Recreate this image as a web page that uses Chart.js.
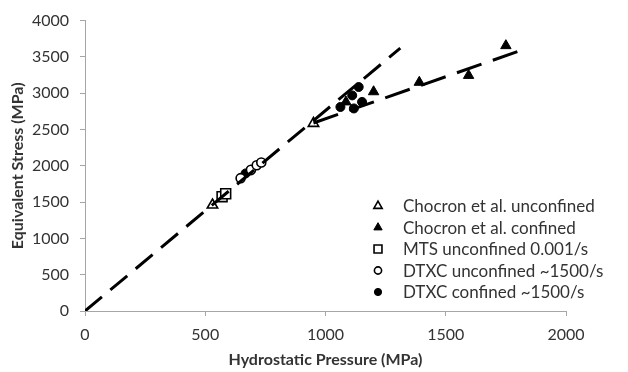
<!DOCTYPE html>
<html>
<head>
<meta charset="utf-8">
<script src="https://cdn.jsdelivr.net/npm/chart.js@4.4.1/dist/chart.umd.min.js"></script>
<style>
  html, body { margin: 0; padding: 0; background: #fff; }
  #wrap { width: 628px; height: 372px; }
</style>
</head>
<body>
<div id="wrap"><canvas id="chart" width="628" height="372"></canvas></div>
<script>
// ── data ──
const xTicks = [0, 500, 1000, 1500, 2000];
const yTicks = [0, 500, 1000, 1500, 2000, 2500, 3000, 3500, 4000];

const chocronUnconfinedX = [530, 950];
const chocronUnconfinedY = [1460, 2585];
const chocronConfinedX = [1085, 1200, 1390, 1595, 1750];
const chocronConfinedY = [2880, 3020, 3150, 3245, 3655];
const mtsUnconfinedX = [570, 585];
const mtsUnconfinedY = [1575, 1615];
const dtxcUnconfinedX = [647, 690, 714, 733];
const dtxcUnconfinedY = [1830, 1945, 2008, 2045];
const dtxcConfinedX = [668, 689, 1062, 1118, 1111, 1138, 1152];
const dtxcConfinedY = [1895, 1935, 2810, 2790, 2970, 3085, 2880];

// trend lines (dashed)
const unconfinedFitX = [0, 1311];
const unconfinedFitY = [0, 3620];
const confinedFitX = [950, 1830];
const confinedFitY = [2590, 3610];

const pts = (xs, ys) => xs.map((x, i) => ({ x, y: ys[i] }));

const TEXT = '#333';
const AXIS = '#a6a6a6';
const FONT = "Lato, 'Open Sans', sans-serif";

const lineSet = (xs, ys, dash) => ({
    label: '',
    data: pts(xs, ys),
    showLine: true,
    borderColor: '#000',
    borderWidth: 3,
    borderDash: dash,
    pointRadius: 0,
    fill: false,
    isFit: true,
});

const markerSet = (label, xs, ys, style, radius, filled) => ({
    label,
    data: pts(xs, ys),
    pointStyle: style,
    pointRadius: radius,
    pointBackgroundColor: filled ? '#000' : '#fff',
    pointBorderColor: '#000',
    pointBorderWidth: filled ? 1 : 1.6,
    showLine: false,
});

// legend drawn inside the plot area, lower right
const insideLegend = {
    id: 'insideLegend',
    afterDraw(chart) {
        const ctx = chart.ctx;
        ctx.save();
        ctx.font = `17px ${FONT}`;
        ctx.textBaseline = 'middle';
        ctx.textAlign = 'left';
        let row = 0;
        chart.data.datasets.forEach(ds => {
            if (ds.isFit) return;
            const y = 206 + row * 21.5;
            ctx.fillStyle = ds.pointBackgroundColor;
            ctx.strokeStyle = ds.pointBorderColor;
            ctx.lineWidth = ds.pointBorderWidth;
            Chart.helpers.drawPoint(ctx, {
                pointStyle: ds.pointStyle,
                radius: ds.pointRadius * 0.8,
                rotation: 0,
                borderWidth: ds.pointBorderWidth,
            }, 378, y);
            ctx.fillStyle = TEXT;
            ctx.fillText(ds.label, 403, y + 1);
            row++;
        });
        ctx.restore();
    },
};

new Chart(document.getElementById('chart'), {
    type: 'scatter',
    data: {
        datasets: [
            lineSet(unconfinedFitX, unconfinedFitY, [22, 11]),
            lineSet(confinedFitX, confinedFitY, [26, 12]),
            markerSet('Chocron et al. unconfined', chocronUnconfinedX, chocronUnconfinedY, 'triangle', 6, false),
            markerSet('Chocron et al. confined', chocronConfinedX, chocronConfinedY, 'triangle', 6, true),
            markerSet('MTS unconfined 0.001/s', mtsUnconfinedX, mtsUnconfinedY, 'rect', 7, false),
            markerSet('DTXC unconfined ~1500/s', dtxcUnconfinedX, dtxcUnconfinedY, 'circle', 4.5, false),
            markerSet('DTXC confined ~1500/s', dtxcConfinedX, dtxcConfinedY, 'circle', 4.5, true),
        ],
    },
    options: {
        responsive: false,
        animation: false,
        layout: { padding: { left: 0, right: 62, top: 20, bottom: 0 } },
        plugins: {
            legend: { display: false },
            tooltip: { enabled: false },
        },
        scales: {
            x: {
                type: 'linear',
                min: 0,
                max: 2000,
                afterBuildTicks: s => { s.ticks = xTicks.map(v => ({ value: v })); },
                afterFit: s => { s.height = 61; },
                grid: { display: true, drawOnChartArea: false, drawTicks: true, tickLength: 5, color: AXIS },
                border: { display: true, color: AXIS, width: 1 },
                ticks: {
                    color: TEXT,
                    font: { family: FONT, size: 16 },
                    padding: 9,
                    maxRotation: 0,
                    callback: v => String(v),
                },
                title: {
                    display: true,
                    text: 'Hydrostatic Pressure (MPa)',
                    color: TEXT,
                    font: { family: FONT, size: 16, weight: 'bold' },
                    padding: { top: 0, bottom: 3 },
                },
            },
            y: {
                type: 'linear',
                min: 0,
                max: 4000,
                afterBuildTicks: s => { s.ticks = yTicks.map(v => ({ value: v })); },
                afterFit: s => { s.width = 85; },
                grid: { display: true, drawOnChartArea: false, drawTicks: true, tickLength: 5, color: AXIS },
                border: { display: true, color: AXIS, width: 1 },
                ticks: {
                    color: TEXT,
                    font: { family: FONT, size: 16 },
                    padding: 11,
                    callback: v => String(v),
                },
                title: {
                    display: true,
                    text: 'Equivalent Stress (MPa)',
                    color: TEXT,
                    font: { family: FONT, size: 16, weight: 'bold' },
                    padding: { top: 8, bottom: 0 },
                },
            },
        },
    },
    plugins: [insideLegend],
});
</script>
</body>
</html>
